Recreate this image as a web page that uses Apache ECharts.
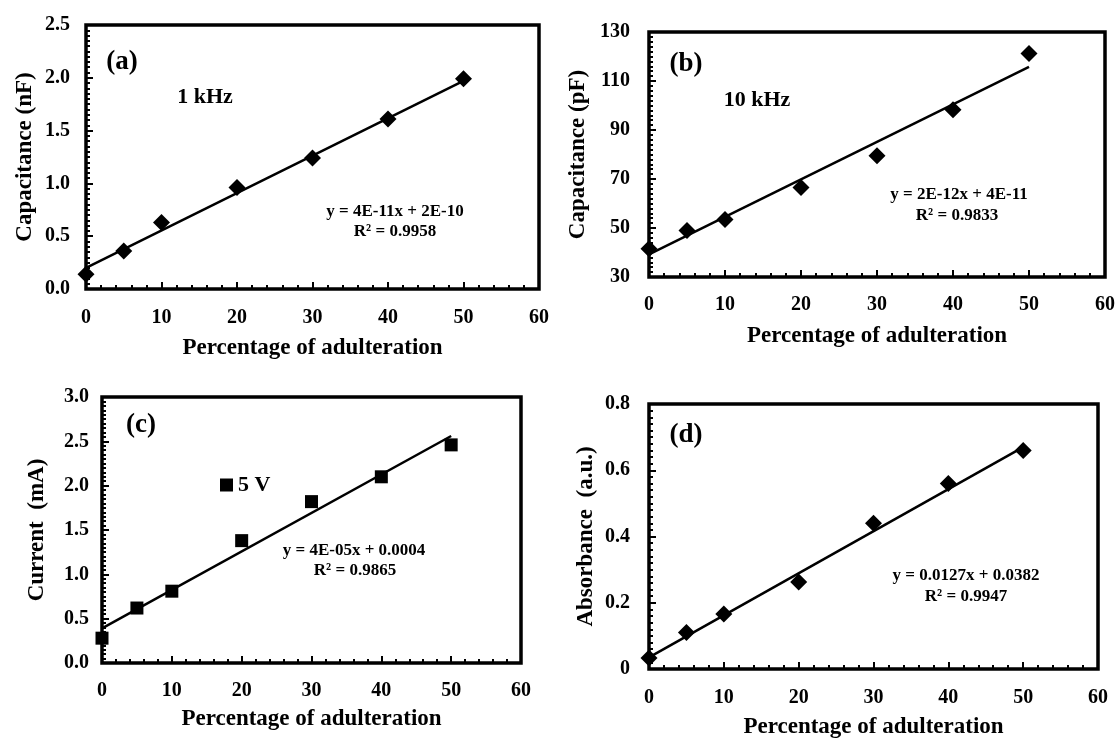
<!DOCTYPE html>
<html>
<head>
<meta charset="utf-8">
<script src="https://cdn.jsdelivr.net/npm/echarts@6/dist/echarts.min.js"></script>
<style>
  html, body { margin: 0; padding: 0; background: #fff; }
  #main { width: 1118px; height: 740px; }
</style>
</head>
<body>
<div id="main"></div>
<script>
// percentage of adulteration (x values, same for every panel)
var pct = [0, 5, 10, 20, 30, 40, 50];
// (a) capacitance at 1 kHz, nF
var capA = [0.14, 0.36, 0.63, 0.96, 1.24, 1.61, 1.99];
// (b) capacitance at 10 kHz, pF
var capB = [41.5, 49, 53.5, 66.5, 79.5, 98.3, 121.2];
// (c) current at 5 V, mA
var currC = [0.28, 0.62, 0.81, 1.38, 1.82, 2.1, 2.46];
// (d) absorbance, a.u.
var absD = [0.033, 0.11, 0.166, 0.263, 0.44, 0.56, 0.66];
// linear trend line end points
var trendX = [0, 50];
var trendA = [0.2, 1.97];
var trendB = [39.2, 115.8];
var trendC = [0.39, 2.56];
var trendD = [0.035, 0.67];
// axis ticks
var xTicks = { min: 0, max: 60, interval: 10 };
var yTicksA = { min: 0, max: 2.5, interval: 0.5 };
var yTicksB = { min: 30, max: 130, interval: 20 };
var yTicksC = { min: 0, max: 3, interval: 0.5 };
var yTicksD = { min: 0, max: 0.8, interval: 0.2 };

var FONT = "'Liberation Serif', 'Times New Roman', serif";

function pairs(xs, ys) {
	var out = [];
	for (var i = 0; i < xs.length; i++) out.push([xs[i], ys[i]]);
	return out;
}

function makeX(idx, margin, gap) {
	return {
		type: 'value', gridIndex: idx,
		min: xTicks.min, max: xTicks.max, interval: xTicks.interval,
		name: 'Percentage of adulteration', nameLocation: 'middle', nameGap: gap,
		nameTextStyle: { fontFamily: FONT, fontWeight: 'bold', fontSize: 23, color: '#000' },
		axisLine: { show: false },
		axisTick: { show: true, inside: true, length: 7, lineStyle: { color: '#000', width: 2 } },
		minorTick: { show: true, splitNumber: 5, length: 4, lineStyle: { color: '#000', width: 2 } },
		axisLabel: { margin: margin, fontFamily: FONT, fontWeight: 'bold', fontSize: 20, color: '#000' },
		splitLine: { show: false }
	};
}

function makeY(idx, ticks, title, margin, gap, fmt) {
	return {
		type: 'value', gridIndex: idx,
		min: ticks.min, max: ticks.max, interval: ticks.interval,
		name: title, nameLocation: 'middle', nameGap: gap,
		nameTextStyle: { fontFamily: FONT, fontWeight: 'bold', fontSize: 23, color: '#000' },
		axisLine: { show: false },
		axisTick: { show: true, inside: true, length: 7, lineStyle: { color: '#000', width: 2 } },
		minorTick: { show: true, splitNumber: 10, length: 4, lineStyle: { color: '#000', width: 2 } },
		axisLabel: { margin: margin, formatter: fmt, fontFamily: FONT, fontWeight: 'bold', fontSize: 20, color: '#000' },
		splitLine: { show: false }
	};
}

function scatter(idx, name, ys, symbol, size) {
	return {
		type: 'scatter', name: name, xAxisIndex: idx, yAxisIndex: idx,
		data: pairs(pct, ys), symbol: symbol, symbolSize: size, clip: false,
		itemStyle: { color: '#000', opacity: 1 }, z: 3
	};
}

function trend(idx, ys) {
	return {
		type: 'line', xAxisIndex: idx, yAxisIndex: idx,
		data: pairs(trendX, ys), symbol: 'none', silent: true,
		lineStyle: { color: '#000', width: 2.5 }, z: 2
	};
}

function label(text, x, y, size) {
	return {
		type: 'text', x: x, y: y, silent: true,
		style: { text: text, font: 'bold ' + size + 'px ' + FONT, fill: '#000', align: 'center', verticalAlign: 'middle' }
	};
}

var gridBox = { show: true, borderColor: '#000', borderWidth: 3.5, backgroundColor: 'transparent' };

var option = {
	backgroundColor: '#fff',
	animation: false,
	grid: [
		Object.assign({ left: 86, top: 25, width: 453, height: 264 }, gridBox),
		Object.assign({ left: 649, top: 32, width: 456, height: 245 }, gridBox),
		Object.assign({ left: 102, top: 397, width: 419, height: 266 }, gridBox),
		Object.assign({ left: 649, top: 404, width: 449, height: 265 }, gridBox)
	],
	xAxis: [makeX(0, 19, 48), makeX(1, 18, 48), makeX(2, 18, 45), makeX(3, 19, 47)],
	yAxis: [
		makeY(0, yTicksA, 'Capacitance (nF)', 16, 49, function (v) { return v.toFixed(1); }),
		makeY(1, yTicksB, 'Capacitance (pF)', 19, 59, function (v) { return String(v); }),
		makeY(2, yTicksC, 'Current  (mA)', 13, 53, function (v) { return v.toFixed(1); }),
		makeY(3, yTicksD, 'Absorbance  (a.u.)', 19, 51, function (v) { return v === 0 ? '0' : v.toFixed(1); })
	],
	legend: {
		data: ['5 V'], left: 220, top: 474, padding: 0,
		icon: 'rect', itemWidth: 13, itemHeight: 13,
		textStyle: { fontFamily: FONT, fontWeight: 'bold', fontSize: 22, color: '#000' }
	},
	series: [
		scatter(0, 'a', capA, 'diamond', 17), trend(0, trendA),
		scatter(1, 'b', capB, 'diamond', 17), trend(1, trendB),
		scatter(2, '5 V', currC, 'rect', 13), trend(2, trendC),
		scatter(3, 'd', absD, 'diamond', 17), trend(3, trendD)
	],
	graphic: [
		label('(a)', 122, 62, 27), label('1 kHz', 205, 97, 22),
		label('y = 4E-11x + 2E-10', 395, 212, 17), label('R\u00b2 = 0.9958', 395, 232, 17),
		label('(b)', 686, 64, 27), label('10 kHz', 757, 100, 22),
		label('y = 2E-12x + 4E-11', 959, 195, 17), label('R\u00b2 = 0.9833', 957, 216, 17),
		label('(c)', 141, 425, 27),
		label('y = 4E-05x + 0.0004', 354, 551, 17), label('R\u00b2 = 0.9865', 355, 571, 17),
		label('(d)', 686, 435, 27),
		label('y = 0.0127x + 0.0382', 966, 576, 17), label('R\u00b2 = 0.9947', 966, 597, 17)
	]
};

var chart = echarts.init(document.getElementById('main'));
chart.setOption(option);
</script>
</body>
</html>
